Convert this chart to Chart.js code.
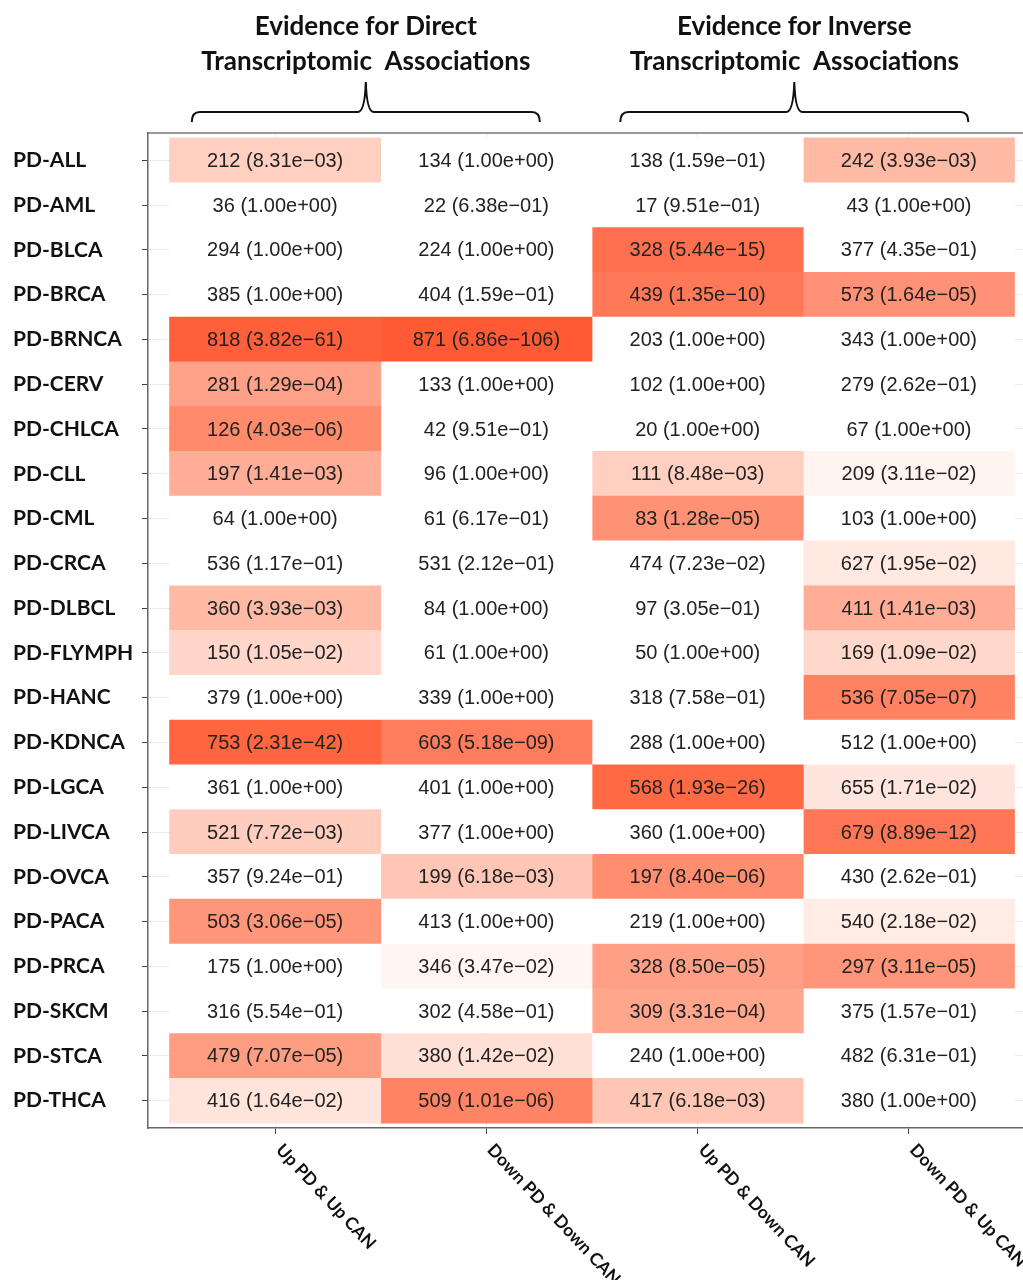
<!DOCTYPE html>
<html>
<head>
<meta charset="utf-8">
<script src="https://cdn.jsdelivr.net/npm/chart.js@4/dist/chart.umd.min.js"></script>
<style>
  html, body { margin: 0; padding: 0; background: #fff; }
  #wrap { width: 1023px; height: 1280px; position: relative; }
</style>
</head>
<body>
<div id="wrap"><canvas id="heat"></canvas></div>
<script>
const rows = ["PD-ALL", "PD-AML", "PD-BLCA", "PD-BRCA", "PD-BRNCA", "PD-CERV", "PD-CHLCA",
  "PD-CLL", "PD-CML", "PD-CRCA", "PD-DLBCL", "PD-FLYMPH", "PD-HANC", "PD-KDNCA", "PD-LGCA",
  "PD-LIVCA", "PD-OVCA", "PD-PACA", "PD-PRCA", "PD-SKCM", "PD-STCA", "PD-THCA"];

const columns = ["Up PD & Up CAN", "Down PD & Down CAN", "Up PD & Down CAN", "Down PD & Up CAN"];

const groupTitles = [
  ["Evidence for Direct", "Transcriptomic  Associations"],
  ["Evidence for Inverse", "Transcriptomic  Associations"],
];

// overlap counts and p-values, one pair per column
const upUpCounts = [212, 36, 294, 385, 818, 281, 126, 197, 64, 536, 360, 150, 379, 753, 361, 521, 357, 503, 175, 316, 479, 416];
const upUpP = [8.31e-3, 1, 1, 1, 3.82e-61, 1.29e-4, 4.03e-6, 1.41e-3, 1, 1.17e-1, 3.93e-3, 1.05e-2, 1, 2.31e-42, 1, 7.72e-3, 9.24e-1, 3.06e-5, 1, 5.54e-1, 7.07e-5, 1.64e-2];

const downDownCounts = [134, 22, 224, 404, 871, 133, 42, 96, 61, 531, 84, 61, 339, 603, 401, 377, 199, 413, 346, 302, 380, 509];
const downDownP = [1, 6.38e-1, 1, 1.59e-1, 6.86e-106, 1, 9.51e-1, 1, 6.17e-1, 2.12e-1, 1, 1, 1, 5.18e-9, 1, 1, 6.18e-3, 1, 3.47e-2, 4.58e-1, 1.42e-2, 1.01e-6];

const upDownCounts = [138, 17, 328, 439, 203, 102, 20, 111, 83, 474, 97, 50, 318, 288, 568, 360, 197, 219, 328, 309, 240, 417];
const upDownP = [1.59e-1, 9.51e-1, 5.44e-15, 1.35e-10, 1, 1, 1, 8.48e-3, 1.28e-5, 7.23e-2, 3.05e-1, 1, 7.58e-1, 1, 1.93e-26, 1, 8.40e-6, 1, 8.50e-5, 3.31e-4, 1, 6.18e-3];

const downUpCounts = [242, 43, 377, 573, 343, 279, 67, 209, 103, 627, 411, 169, 536, 512, 655, 679, 430, 540, 297, 375, 482, 380];
const downUpP = [3.93e-3, 1, 4.35e-1, 1.64e-5, 1, 2.62e-1, 1, 3.11e-2, 1, 1.95e-2, 1.41e-3, 1.09e-2, 7.05e-7, 1, 1.71e-2, 8.89e-12, 2.62e-1, 2.18e-2, 3.11e-5, 1.57e-1, 6.31e-1, 1];

const counts = [upUpCounts, downDownCounts, upDownCounts, downUpCounts];
const pvals = [upUpP, downDownP, upDownP, downUpP];

// fill ramp on -log10(p), only for p < 0.05
const fillStops = [
  [1.30, 252, 250], [1.46, 246, 243], [1.71, 233, 225], [1.85, 224, 214],
  [2.0, 212, 199], [2.2, 199, 183], [2.4, 186, 166], [2.85, 173, 150],
  [3.5, 166, 141], [4.0, 160, 135], [4.5, 150, 122], [5.4, 138, 108],
  [6.2, 129, 97], [8.3, 124, 92], [10, 121, 88], [14.3, 113, 78],
  [25.7, 106, 68], [41.6, 101, 63], [60.4, 95, 57], [105, 90, 52],
];

function fillFor(p) {
  if (p >= 0.05) return "#ffffff";
  const s = -Math.log10(p);
  let g = fillStops[fillStops.length - 1][1], b = fillStops[fillStops.length - 1][2];
  for (let k = 1; k < fillStops.length; k++) {
    const [s1, g1, b1] = fillStops[k];
    const [s0, g0, b0] = fillStops[k - 1];
    if (s <= s1) {
      const t = Math.max(0, (s - s0) / (s1 - s0));
      g = g0 + (g1 - g0) * t;
      b = b0 + (b1 - b0) * t;
      break;
    }
  }
  return `rgb(255,${Math.round(g)},${Math.round(b)})`;
}

function fmtP(p) {
  const [m, e] = p.toExponential(2).split("e");
  const n = Number(e);
  return m + "e" + (n < 0 ? "\u2212" : "+") + String(Math.abs(n)).padStart(2, "0");
}

const datasets = columns.map((name, c) => ({
  label: name,
  data: rows.map((r, i) => ({ y: i, x: [c - 0.5, c + 0.5] })),
  backgroundColor: pvals[c].map(fillFor),
  borderWidth: 0,
  barPercentage: 1,
  categoryPercentage: 1,
  grouped: false,
}));

const cellText = {
  id: "cellText",
  afterDatasetsDraw(chart) {
    const { ctx, scales: { x, y } } = chart;
    ctx.save();
    ctx.font = '20px "Liberation Sans", Arial, sans-serif';
    ctx.fillStyle = "#222";
    ctx.textAlign = "center";
    ctx.textBaseline = "middle";
    columns.forEach((name, c) => {
      rows.forEach((r, i) => {
        ctx.fillText(`${counts[c][i]} (${fmtP(pvals[c][i])})`, x.getPixelForValue(c), y.getPixelForValue(i) + 1);
      });
    });
    ctx.restore();
  },
};

const frameAndNotes = {
  id: "frameAndNotes",
  afterDraw(chart) {
    const { ctx, chartArea, scales: { x } } = chart;
    ctx.save();
    // top border of the panel
    ctx.strokeStyle = "#777";
    ctx.lineWidth = 1.5;
    ctx.beginPath();
    ctx.moveTo(chartArea.left, chartArea.top);
    ctx.lineTo(chartArea.right, chartArea.top);
    ctx.stroke();

    // rotated column labels
    ctx.fillStyle = "#111";
    ctx.font = 'bold 17.5px Lato, "Open Sans", sans-serif';
    ctx.textAlign = "left";
    ctx.textBaseline = "middle";
    columns.forEach((name, c) => {
      ctx.save();
      ctx.translate(x.getPixelForValue(c) + 4, chartArea.bottom + 19);
      ctx.rotate(Math.PI * 0.26);
      ctx.fillText(name, 0, 0);
      ctx.restore();
    });

    // group titles with braces
    groupTitles.forEach((lines, g) => {
      const cx = (x.getPixelForValue(2 * g) + x.getPixelForValue(2 * g + 1)) / 2 - (g === 0 ? 15 : 9);
      ctx.font = 'bold 26px Lato, "Open Sans", sans-serif';
      ctx.textAlign = "center";
      ctx.fillText(lines[0], cx, 27);
      ctx.fillText(lines[1], cx, 62);

      const half = 174, base = 112, tip = 82;
      ctx.strokeStyle = "#111";
      ctx.lineWidth = 2;
      ctx.beginPath();
      ctx.moveTo(cx - half, base + 10);
      ctx.quadraticCurveTo(cx - half, base, cx - half + 8, base);
      ctx.lineTo(cx - 8, base);
      ctx.quadraticCurveTo(cx - 1, base, cx, tip);
      ctx.quadraticCurveTo(cx + 1, base, cx + 8, base);
      ctx.lineTo(cx + half - 8, base);
      ctx.quadraticCurveTo(cx + half, base, cx + half, base + 10);
      ctx.stroke();
    });
    ctx.restore();
  },
};

new Chart(document.getElementById("heat"), {
  type: "bar",
  data: { datasets },
  options: {
    indexAxis: "y",
    responsive: true,
    maintainAspectRatio: false,
    animation: false,
    layout: { padding: { top: 133, left: 13, right: 0, bottom: 146 } },
    plugins: {
      legend: { display: false },
      tooltip: { enabled: false },
    },
    scales: {
      x: {
        type: "linear",
        position: "bottom",
        offset: false,
        min: -0.602,
        max: 3.54,
        afterBuildTicks: (scale) => { scale.ticks = columns.map((n, c) => ({ value: c })); },
        ticks: { display: false },
        grid: { offset: false, color: "#ebebeb", tickColor: "#444", tickLength: 6, lineWidth: 1 },
        border: { color: "#666", width: 1.5 },
      },
      y: {
        type: "linear",
        reverse: true,
        offset: false,
        min: -0.61,
        max: 21.61,
        afterBuildTicks: (scale) => { scale.ticks = rows.map((r, i) => ({ value: i })); },
        afterFit: (scale) => { scale.width = 135; },
        ticks: {
          autoSkip: false,
          crossAlign: "far",
          color: "#111",
          font: { family: 'Lato, "Open Sans", sans-serif', size: 21, weight: "bold" },
          callback: (v) => rows[v],
        },
        grid: { offset: false, color: "#ebebeb", tickColor: "#444", tickLength: 6, lineWidth: 1 },
        border: { color: "#666", width: 1.5 },
      },
    },
  },
  plugins: [cellText, frameAndNotes],
});
</script>
</body>
</html>
